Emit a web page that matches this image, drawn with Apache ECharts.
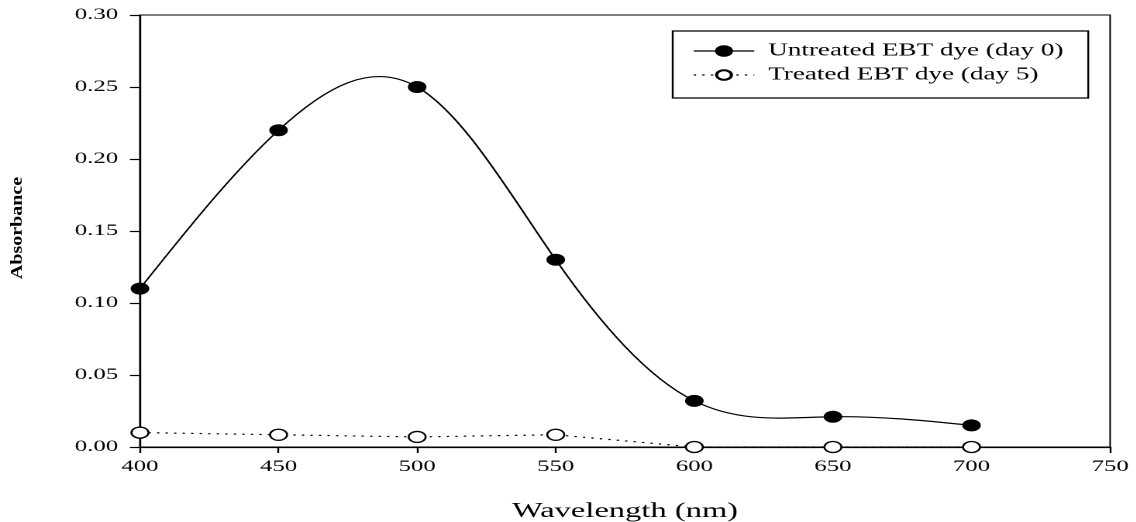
<!DOCTYPE html>
<html>
<head>
<meta charset="utf-8">
<script src="https://cdn.jsdelivr.net/npm/echarts@6/dist/echarts.min.js"></script>
<style>
html,body{margin:0;padding:0;background:#fff;overflow:hidden;width:1136px;height:522px;}
#chart{width:733px;height:522px;transform:scaleX(1.55);transform-origin:0 0;}
</style>
</head>
<body>
<div id="chart"></div>
<script>
// Data
const wavelengths = [400, 450, 500, 550, 600, 650, 700];
const untreated = [0.110, 0.220, 0.250, 0.130, 0.032, 0.021, 0.015];
const treated = [0.010, 0.0085, 0.007, 0.0085, 0.000, 0.000, 0.000];
const seriesNames = ['Untreated EBT dye (day 0)', 'Treated EBT dye (day 5)'];
const xTitle = 'Wavelength (nm)';
const yTitle = 'Absorbance';

const FONT = "'Liberation Serif', 'Times New Roman', serif";
const pair = (xs, ys) => xs.map((x, i) => [x, ys[i]]);

// natural cubic spline second derivatives (for drawing the smooth curve)
function splineM(xs, ys) {
  const n = xs.length, h = [];
  for (let i = 0; i < n - 1; i++) h[i] = xs[i + 1] - xs[i];
  const M = new Array(n).fill(0), cp = [], dp = [];
  for (let i = 1; i < n - 1; i++) {
    const a = h[i - 1], b = 2 * (h[i - 1] + h[i]), c = h[i];
    const d = 6 * ((ys[i + 1] - ys[i]) / h[i] - (ys[i] - ys[i - 1]) / h[i - 1]);
    if (i === 1) { cp[i] = c / b; dp[i] = d / b; }
    else { const m = b - a * cp[i - 1]; cp[i] = c / m; dp[i] = (d - a * dp[i - 1]) / m; }
  }
  for (let i = n - 2; i >= 1; i--) M[i] = dp[i] - cp[i] * M[i + 1];
  return M;
}

function splineRender(xs, ys) {
  const M = splineM(xs, ys);
  return function (params, api) {
    if (params.dataIndex !== 0) return null;
    const P = (x, y) => api.coord([x, y]);
    let p0 = P(xs[0], ys[0]);
    let d = 'M' + p0[0] + ',' + p0[1];
    for (let i = 0; i < xs.length - 1; i++) {
      const h = xs[i + 1] - xs[i];
      const sl = (ys[i + 1] - ys[i]) / h;
      const s0 = sl - h * (2 * M[i] + M[i + 1]) / 6;
      const s1 = sl + h * (M[i] + 2 * M[i + 1]) / 6;
      const c1 = P(xs[i] + h / 3, ys[i] + s0 * h / 3);
      const c2 = P(xs[i + 1] - h / 3, ys[i + 1] - s1 * h / 3);
      const p1 = P(xs[i + 1], ys[i + 1]);
      d += ' C' + c1[0] + ',' + c1[1] + ' ' + c2[0] + ',' + c2[1] + ' ' + p1[0] + ',' + p1[1];
    }
    return {type: 'path', shape: {pathData: d}, style: {stroke: '#000', lineWidth: 1.2, fill: 'none'}};
  };
}

const chart = echarts.init(document.getElementById('chart'), null, {renderer: 'canvas', devicePixelRatio: 2});
chart.setOption({
  backgroundColor: '#fff',
  animation: false,
  grid: {left: 90.3, right: 16.8, top: 15, bottom: 75, show: true, borderColor: '#000', borderWidth: 1, outerBoundsMode: 'none', containLabel: false},
  legend: {
    orient: 'vertical',
    left: 434,
    top: 31,
    itemWidth: 39,
    itemHeight: 12,
    itemGap: 6,
    padding: [11, 16, 14, 13],
    borderColor: '#000',
    borderWidth: 1.2,
    backgroundColor: '#fff',
    textStyle: {fontFamily: FONT, fontSize: 17.5, color: '#000', padding: [0, 0, 0, 4]},
    data: [
      {name: seriesNames[0], lineStyle: {opacity: 1, color: '#000', width: 1.2, type: 'solid'}},
      {name: seriesNames[1], lineStyle: {opacity: 1, color: '#000', width: 1.2, type: [1.5, 4]}}
    ]
  },
  graphic: [{
    type: 'text', x: 11.6, y: 228, rotation: Math.PI / 2, scaleX: 1.0, scaleY: 0.5,
    style: {text: yTitle, fontFamily: FONT, fontSize: 20, fontWeight: 'bold', fill: '#000', align: 'center', verticalAlign: 'middle'}
  }],
  xAxis: {
    type: 'value', min: 400, max: 750, interval: 50,
    name: xTitle, nameLocation: 'middle', nameGap: 54,
    nameTextStyle: {fontFamily: FONT, fontSize: 21, color: '#000'},
    axisLine: {show: true, lineStyle: {color: '#000', width: 1.2}},
    axisTick: {show: true, length: 6, lineStyle: {color: '#000', width: 1.2}},
    axisLabel: {fontFamily: FONT, fontSize: 16, color: '#000', margin: 12},
    splitLine: {show: false}
  },
  yAxis: {
    type: 'value', min: 0, max: 0.3, interval: 0.05,
    axisLine: {show: true, lineStyle: {color: '#000', width: 1.2}},
    axisTick: {show: true, length: 6.5, lineStyle: {color: '#000', width: 1.2}},
    axisLabel: {fontFamily: FONT, fontSize: 16, color: '#000', margin: 14, formatter: v => v.toFixed(2)},
    splitLine: {show: false}
  },
  series: [
    {
      name: 'untreated-curve', type: 'custom', silent: true, clip: false,
      data: pair(wavelengths, untreated), encode: {x: 0, y: 1},
      renderItem: splineRender(wavelengths, untreated), z: 2
    },
    {
      name: seriesNames[0], type: 'line', smooth: false,
      data: pair(wavelengths, untreated),
      symbol: 'circle', symbolSize: 11,
      lineStyle: {color: '#000', width: 1.2, opacity: 0},
      itemStyle: {color: '#000', borderColor: '#000', borderWidth: 1},
      z: 3
    },
    {
      name: seriesNames[1], type: 'line', smooth: false,
      data: pair(wavelengths, treated),
      symbol: 'circle', symbolSize: 11,
      lineStyle: {color: '#000', width: 1.2, type: [1.5, 4]},
      itemStyle: {color: '#fff', borderColor: '#000', borderWidth: 1.3},
      z: 4
    }
  ]
});
</script>
</body>
</html>
